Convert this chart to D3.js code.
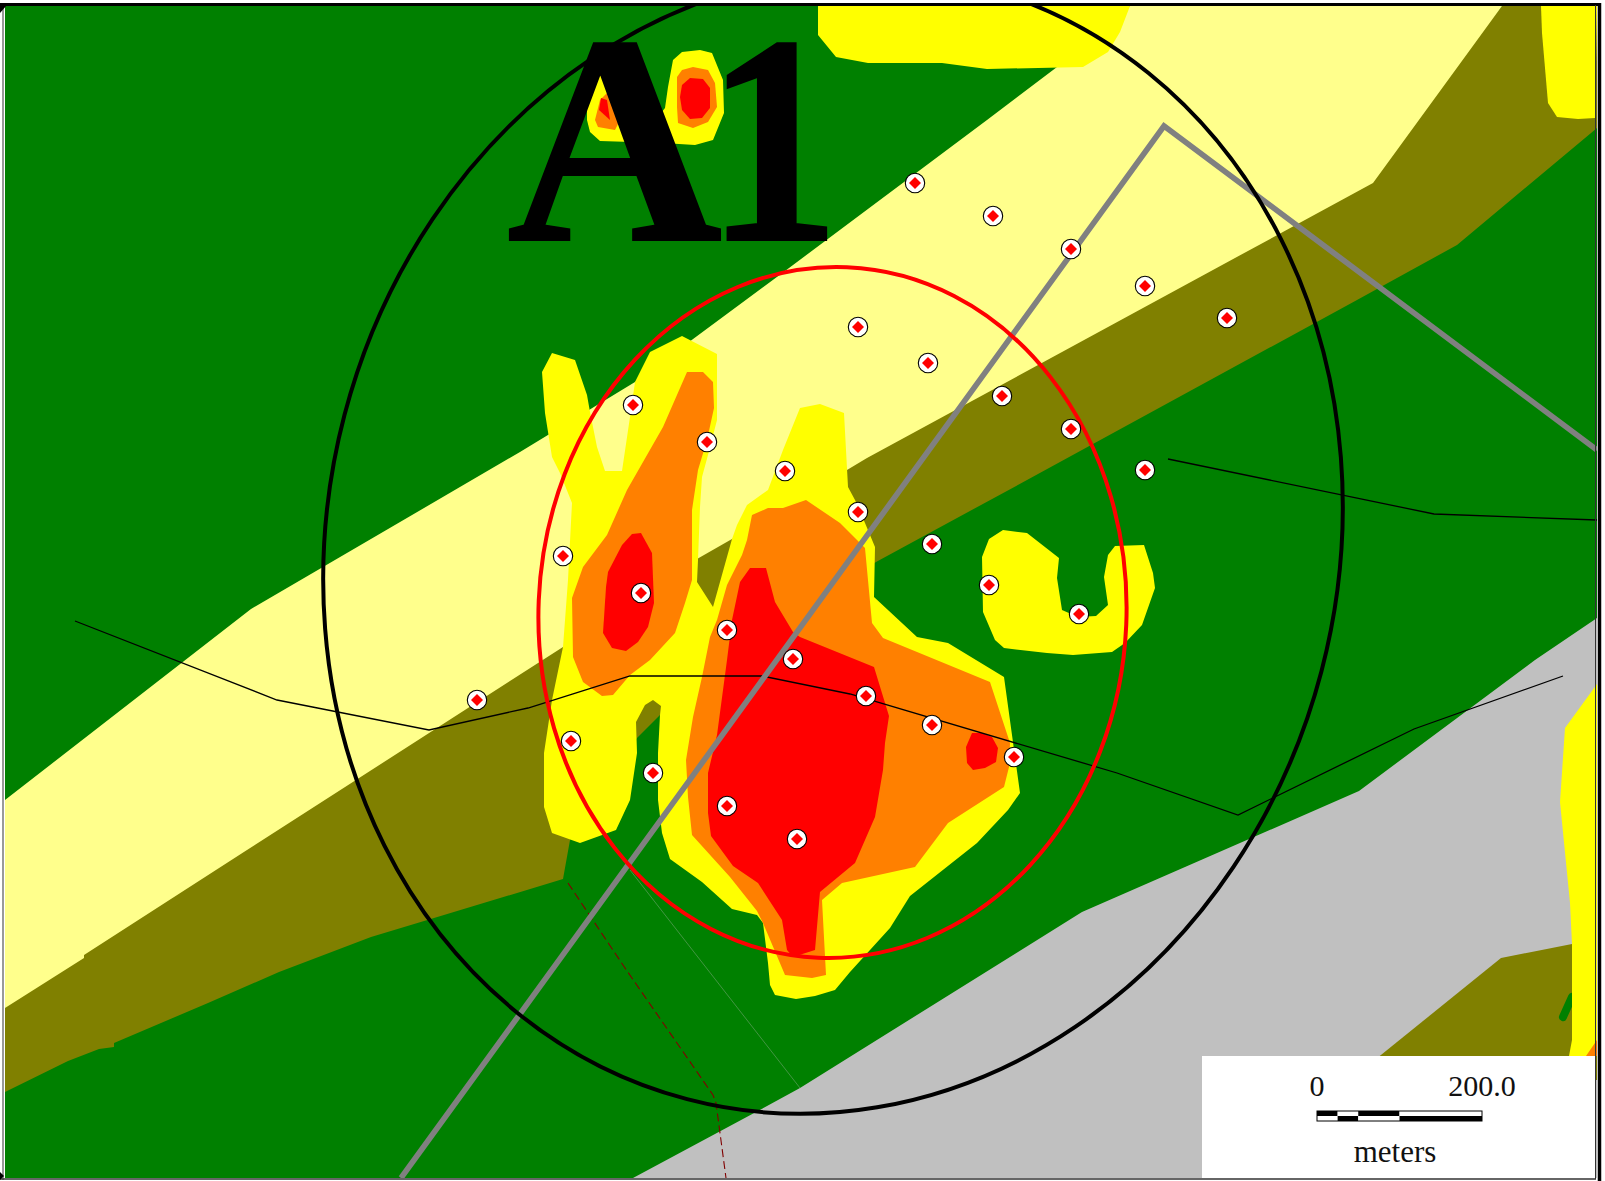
<!DOCTYPE html>
<html>
<head>
<meta charset="utf-8">
<title>A1</title>
<script src="https://cdn.jsdelivr.net/npm/d3@7"></script>
<style>
  html, body { margin: 0; padding: 0; background: #fff; }
  svg { display: block; }
</style>
</head>
<body>
<div id="chart"></div>
<script>
// Data, map units
const mapLabel = ["A", "1"];
const scaleLabels = ["0", "200.0"];
const scaleUnit = "meters";
const scaleBreaks = [0, 25, 50, 100, 200];

const soilOlive = [[1502,6],[1597,6],[1597,128],[1457,245],[1357,300],[1027,480],[876,562],[760,640],[660,715],[637,738],[570,840],[563,879],[434,918],[371,937],[279,972],[208,1003],[114,1043],[114,1047],[99,1049],[68,1061],[5,1092],[5,1008],[84,945],[563,630],[867,440],[1373,170]];
const soilPale = [[5,800],[251,609],[520,452],[635,382],[785,271],[987,120],[1057,67],[1130,6],[1502,6],[1373,183],[867,458],[732,539],[697,559],[563,647],[247,850],[84,955],[84,958],[5,1008]];
const soilGrey = [[633,1178],[756,1112],[800,1088],[1082,912],[1359,791],[1535,660],[1597,618],[1597,1178]];
const soilOliveSE = [[1350,1080],[1501,958],[1572,944],[1597,944],[1597,1080]];
const greenStreak = [[1572,997],[1563,1017]];

const yellowAreas = [
  // left lobe with horn
  [[552,353],[575,360],[587,395],[590,412],[597,447],[605,471],[622,471],[630,417],[635,382],[650,352],[682,336],[717,354],[717,420],[708,455],[702,477],[700,507],[698,560],[697,582],[713,607],[720,640],[700,700],[661,706],[653,700],[645,705],[636,722],[637,753],[630,800],[616,830],[580,843],[552,833],[544,807],[544,753],[552,700],[563,647],[568,580],[572,503],[560,473],[552,457],[545,413],[542,372]],
  // central body
  [[800,408],[820,404],[844,413],[848,487],[855,500],[865,523],[875,547],[874,597],[917,637],[948,643],[1004,677],[1020,793],[1008,810],[977,843],[910,896],[890,928],[850,972],[835,990],[815,996],[796,999],[775,995],[770,985],[768,963],[763,923],[757,915],[732,909],[702,882],[670,859],[662,833],[658,800],[658,753],[660,715],[661,706],[690,650],[713,607],[732,539],[737,525],[747,505],[768,490],[783,450]],
  // hook to the east
  [[1003,530],[1027,533],[1059,558],[1057,578],[1062,610],[1078,617],[1096,616],[1108,605],[1104,577],[1108,555],[1115,546],[1144,545],[1153,573],[1155,588],[1142,625],[1125,643],[1112,652],[1073,655],[1047,653],[1004,648],[995,640],[983,612],[982,557],[989,539]],
  // behind the label
  [[587,90],[592,63],[602,50],[627,50],[635,55],[637,77],[645,118],[657,118],[665,108],[668,87],[673,60],[682,52],[700,50],[712,53],[723,80],[724,113],[713,140],[695,145],[663,143],[600,141],[590,132],[587,120]],
  // top edge
  [[818,6],[818,35],[836,57],[868,63],[942,63],[987,69],[1083,67],[1108,52],[1120,32],[1130,6]],
  // north east corner
  [[1541,6],[1542,33],[1548,103],[1557,117],[1578,119],[1595,118],[1597,6]],
  // east edge
  [[1597,684],[1565,728],[1560,802],[1570,903],[1572,944],[1572,1040],[1569,1056],[1597,1056]],
];

const orangeAreas = [
  [[687,372],[703,372],[713,382],[714,408],[707,440],[698,470],[692,510],[692,580],[685,603],[675,633],[650,660],[630,675],[613,695],[602,696],[583,682],[573,657],[572,598],[583,567],[607,535],[627,490],[663,427]],
  [[752,515],[768,508],[783,508],[806,500],[840,523],[865,548],[872,623],[883,638],[990,682],[1010,743],[1009,767],[1004,787],[948,823],[915,867],[842,883],[822,900],[826,975],[812,978],[785,975],[763,923],[757,911],[730,877],[692,835],[688,797],[686,760],[693,717],[702,677],[710,637],[717,620],[727,585],[742,555],[747,540]],
  [[677,77],[682,70],[693,67],[708,70],[715,83],[717,107],[708,122],[693,128],[678,123],[677,107]],
  [[600,100],[595,120],[598,127],[615,130],[625,110],[610,90]],
  [[1597,1040],[1586,1056],[1597,1056]],
];

const redAreas = [
  [[632,534],[641,533],[652,553],[654,603],[648,627],[638,642],[626,651],[612,648],[603,633],[606,587],[608,572],[622,545]],
  [[750,568],[766,568],[775,602],[793,632],[800,637],[874,667],[889,716],[885,743],[883,770],[875,817],[855,863],[820,892],[815,950],[793,957],[787,950],[782,920],[758,883],[733,866],[711,836],[708,813],[708,773],[717,735],[727,660],[732,620],[740,582]],
  [[972,733],[982,733],[992,737],[998,748],[996,762],[985,768],[973,770],[967,763],[966,747]],
  [[680,97],[682,85],[690,78],[703,79],[710,88],[710,108],[702,118],[690,119],[682,110]],
  [[601,98],[599,110],[610,120],[607,100]],
];

const thinRoad = [[75,621],[277,700],[429,730],[528,708],[630,676],[762,676],[850,694],[1117,773],[1238,815],[1414,729],[1563,676]];
const thinRoadEast = [[1168,459],[1434,514],[1597,520]];
const fenceLine = [[568,883],[625,968],[713,1095],[716,1103],[726,1178]];
const faintLine = [[630,870],[800,1088]];
const greyRoad = [[401,1178],[1164,126],[1597,450]];

// cx, cy, rx, ry, tilt in degrees
const outerRing = [833, 543, 505, 575, 14.7];
const innerRing = [832.5, 612.5, 294, 345.5, 2.4];

const samplePoints = [
  [915,183],[993,216],[1071,249],[1145,286],[1227,318],
  [858,327],[928,363],[1002,396],[1071,429],[1145,470],
  [633,405],[707,442],[785,471],[858,512],[932,544],[989,585],[1079,614],
  [563,556],[641,593],[727,630],[793,659],[866,696],[932,725],[1014,757],
  [477,700],[571,741],[653,773],[727,806],[797,839],
];

// Dimensions
const dimensions = { width: 1605, height: 1181, left: 5, top: 6, right: 1597, bottom: 1178 };

const colors = {
  green: "#008000", olive: "#808000", pale: "#ffff8c", grey: "#c0c0c0",
  yellow: "#ffff00", orange: "#ff8000", red: "#ff0000", road: "#808080",
};

// Scales
const xScale = d3.scaleLinear().domain([0, 1605]).range([0, dimensions.width]);
const yScale = d3.scaleLinear().domain([0, 1181]).range([0, dimensions.height]);
const meterScale = d3.scaleLinear().domain([0, 200]).range([xScale(1317), xScale(1482)]);

const lineGenerator = d3.line().x((d) => xScale(d[0])).y((d) => yScale(d[1]));
const areaGenerator = d3.line().x((d) => xScale(d[0])).y((d) => yScale(d[1])).curve(d3.curveLinearClosed);

// Draw Image
const svg = d3
  .select("#chart")
  .append("svg")
  .attr("width", dimensions.width)
  .attr("height", dimensions.height);

svg
  .append("clipPath")
  .attr("id", "frame")
  .append("rect")
  .attr("x", xScale(dimensions.left))
  .attr("y", yScale(dimensions.top))
  .attr("width", xScale(dimensions.right - dimensions.left))
  .attr("height", yScale(dimensions.bottom - dimensions.top));

const ctr = svg.append("g").attr("clip-path", "url(#frame)");

ctr
  .append("rect")
  .attr("x", xScale(dimensions.left))
  .attr("y", yScale(dimensions.top))
  .attr("width", xScale(dimensions.right - dimensions.left))
  .attr("height", yScale(dimensions.bottom - dimensions.top))
  .attr("fill", colors.green);

function fillAreas(list, color) {
  ctr
    .append("g")
    .selectAll("path")
    .data(list)
    .join("path")
    .attr("d", areaGenerator)
    .attr("fill", color);
}

function strokeLine(points, color, width, dash) {
  ctr
    .append("path")
    .datum(points)
    .attr("d", lineGenerator)
    .attr("fill", "none")
    .attr("stroke", color)
    .attr("stroke-width", width)
    .attr("stroke-dasharray", dash || null);
}

// Soil units
fillAreas([soilOlive], colors.olive);
fillAreas([soilPale], colors.pale);
fillAreas([soilGrey], colors.grey);
fillAreas([soilOliveSE], colors.olive);

ctr
  .append("path")
  .datum(greenStreak)
  .attr("d", lineGenerator)
  .attr("fill", "none")
  .attr("stroke", colors.green)
  .attr("stroke-width", 8)
  .attr("stroke-linecap", "round");

// Contours
fillAreas(yellowAreas, colors.yellow);
fillAreas(orangeAreas, colors.orange);
fillAreas(redAreas, colors.red);

// Lines
strokeLine(faintLine, "#5f9f5f", 0.7);
strokeLine(fenceLine, "#800000", 1.1, "8,4");
strokeLine(thinRoad, "#000", 1.3);
strokeLine(thinRoadEast, "#000", 1.3);
strokeLine(greyRoad, colors.road, 5.6);

// Rings
function drawRing(ring, color) {
  const [cx, cy, rx, ry, tilt] = ring;
  ctr
    .append("ellipse")
    .attr("rx", xScale(rx))
    .attr("ry", yScale(ry))
    .attr("transform", `translate(${xScale(cx)}, ${yScale(cy)}) rotate(${tilt})`)
    .attr("fill", "none")
    .attr("stroke", color)
    .attr("stroke-width", 4);
}
drawRing(outerRing, "#000");
drawRing(innerRing, colors.red);

// Sample points
const points = ctr
  .append("g")
  .selectAll("g")
  .data(samplePoints)
  .join("g")
  .attr("transform", (d) => `translate(${xScale(d[0])}, ${yScale(d[1])})`);

points
  .append("circle")
  .attr("r", 9.7)
  .attr("fill", "#fff")
  .attr("stroke", "#000")
  .attr("stroke-width", 1.1);

points
  .append("path")
  .attr("d", "M0,-6L6,0L0,6L-6,0Z")
  .attr("fill", colors.red);

// Label, the 1 is set a little narrower than the font draws it
svg
  .selectAll("text.label")
  .data(mapLabel)
  .join("text")
  .attr("class", "label")
  .attr("transform", (d, i) =>
    i === 0
      ? `translate(${xScale(507)}, ${yScale(240)})`
      : `translate(${xScale(706)}, ${yScale(240)}) scale(0.9, 1)`
  )
  .attr("font-family", "Liberation Serif")
  .attr("font-weight", "bold")
  .attr("font-size", 298)
  .attr("fill", "#000")
  .attr("stroke", "#000")
  .attr("stroke-width", 2)
  .text((d) => d);

// Scale bar box
const legend = svg.append("g");

legend
  .append("rect")
  .attr("x", xScale(1202))
  .attr("y", yScale(1056))
  .attr("width", xScale(1596 - 1202))
  .attr("height", yScale(1178 - 1056))
  .attr("fill", "#fff");

const barSegments = d3.pairs(scaleBreaks);

legend
  .selectAll("rect.top")
  .data(barSegments)
  .join("rect")
  .attr("class", "top")
  .attr("x", (d) => meterScale(d[0]))
  .attr("y", yScale(1111))
  .attr("width", (d) => meterScale(d[1]) - meterScale(d[0]))
  .attr("height", yScale(5))
  .attr("fill", (d, i) => (i % 2 ? "#fff" : "#000"));

legend
  .selectAll("rect.bottom")
  .data(barSegments)
  .join("rect")
  .attr("class", "bottom")
  .attr("x", (d) => meterScale(d[0]))
  .attr("y", yScale(1116))
  .attr("width", (d) => meterScale(d[1]) - meterScale(d[0]))
  .attr("height", yScale(5))
  .attr("fill", (d, i) => (i % 2 ? "#000" : "#fff"));

legend
  .append("rect")
  .attr("x", meterScale(0))
  .attr("y", yScale(1111))
  .attr("width", meterScale(200) - meterScale(0))
  .attr("height", yScale(10))
  .attr("fill", "none")
  .attr("stroke", "#000")
  .attr("stroke-width", 1);

legend
  .selectAll("text.tick")
  .data(scaleLabels)
  .join("text")
  .attr("class", "tick")
  .attr("x", (d, i) => meterScale(i * 200))
  .attr("y", yScale(1096))
  .attr("text-anchor", "middle")
  .attr("font-family", "Liberation Serif")
  .attr("font-size", 30)
  .attr("fill", "#111")
  .text((d) => d);

legend
  .append("text")
  .attr("x", xScale(1395))
  .attr("y", yScale(1162))
  .attr("text-anchor", "middle")
  .attr("font-family", "Liberation Serif")
  .attr("font-size", 31)
  .attr("fill", "#111")
  .text(scaleUnit);

// Neat line
const neat = svg.append("g").attr("fill", "none");
neat.append("path").attr("d", `M0,${yScale(4.5)}H${xScale(1601)}`).attr("stroke", "#000").attr("stroke-width", 3);
neat.append("path").attr("d", `M${xScale(3)},${yScale(5)}V${yScale(1180)}`).attr("stroke", "#777").attr("stroke-width", 1.5);
neat.append("path").attr("d", `M${xScale(1595.5)},${yScale(5)}V${yScale(1179)}`).attr("stroke", "#333").attr("stroke-width", 1);
neat.append("path").attr("d", `M${xScale(1599.5)},${yScale(3)}V${yScale(1181)}`).attr("stroke", "#000").attr("stroke-width", 3.5);
neat.append("path").attr("d", `M0,${yScale(1179)}H${xScale(1596)}`).attr("stroke", "#333").attr("stroke-width", 1.5);
svg.append("path").attr("d", `M0,${yScale(5)}H${xScale(7)}L0,${yScale(13)}Z`).attr("fill", "#000");
svg.append("path").attr("d", `M0,${yScale(1172)}L${xScale(4)},${yScale(1176)}L0,${yScale(1180)}Z`).attr("fill", "#000");
</script>
</body>
</html>
